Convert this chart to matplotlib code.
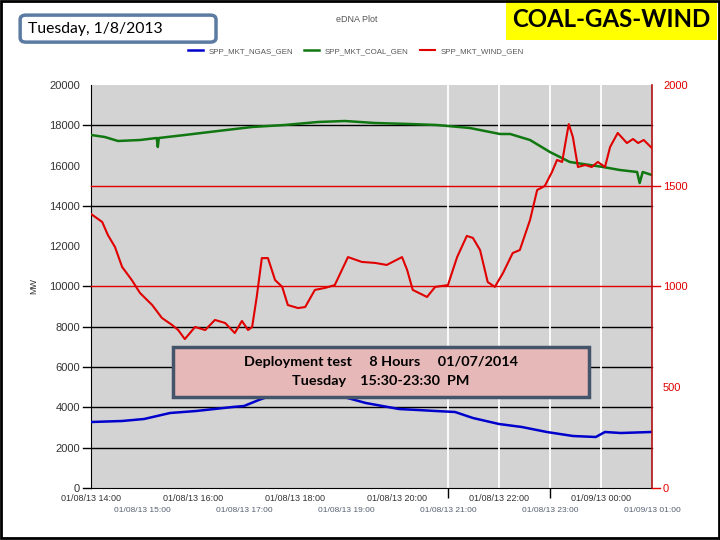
import matplotlib
matplotlib.use('Agg')
import matplotlib.pyplot as plt
from matplotlib.patches import FancyBboxPatch, Rectangle
import matplotlib.transforms as mtransforms

plt.rcParams['font.family'] = ['Liberation Sans Narrow', 'Liberation Sans', 'DejaVu Sans']

# hours of day (14 = 14:00 on 01/08/13, 24 = 00:00 on 01/09/13)
coal_t = [14.00, 14.27, 14.53, 14.96, 15.29, 15.31, 15.33, 15.84, 16.49, 17.16, 17.80, 18.45,
          18.98, 19.57, 20.25, 20.78, 21.43, 22.02, 22.22, 22.61, 23.00, 23.39, 24.04, 24.37,
          24.71, 24.76, 24.82, 25.00]
coal_mw = [17519, 17419, 17221, 17270, 17370, 16923, 17370, 17519, 17717, 17916, 18015, 18164,
           18213, 18114, 18064, 18015, 17866, 17568, 17568, 17270, 16675, 16179, 15931, 15782,
           15682, 15136, 15682, 15533]

gas_t = [14.00, 14.61, 15.04, 15.55, 16.06, 16.78, 17.00, 17.29, 17.51, 17.90, 18.49, 18.96,
         19.39, 20.04, 20.41, 20.76, 21.14, 21.49, 22.00, 22.45, 22.94, 23.45, 23.90, 24.08,
         24.39, 24.98]
gas_mw = [3275, 3325, 3424, 3722, 3821, 4020, 4069, 4367, 4566, 4750, 4800, 4516,
          4218, 3920, 3871, 3821, 3772, 3474, 3176, 3027, 2779, 2581, 2531, 2779,
          2729, 2779]

wind_t = [14.00, 14.22, 14.33, 14.47, 14.61, 14.80, 14.96, 15.20, 15.39, 15.59, 15.71, 15.84,
          16.04, 16.24, 16.43, 16.63, 16.82, 16.96, 17.08, 17.16, 17.25, 17.35, 17.47, 17.61,
          17.75, 17.86, 18.06, 18.20, 18.39, 18.59, 18.78, 19.04, 19.31, 19.57, 19.80, 20.10,
          20.20, 20.31, 20.59, 20.75, 21.00, 21.18, 21.37, 21.49, 21.63, 21.78, 21.92, 22.08,
          22.27, 22.41, 22.61, 22.75, 22.90, 23.04, 23.14, 23.24, 23.29, 23.37, 23.45, 23.55,
          23.69, 23.82, 23.94, 24.08, 24.18, 24.33, 24.51, 24.63, 24.73, 24.84, 25.00]
wind_mw = [1360, 1320, 1256, 1196, 1097, 1032, 968, 908, 844, 809, 784, 739,
           799, 784, 834, 819, 769, 829, 784, 799, 948, 1141, 1141, 1032,
           998, 908, 893, 898, 983, 993, 1007, 1146, 1122, 1117, 1107, 1146,
           1082, 983, 948, 998, 1007, 1146, 1251, 1241, 1181, 1022, 998, 1067,
           1166, 1181, 1330, 1479, 1499, 1568, 1628, 1618, 1692, 1806, 1742, 1593,
           1603, 1593, 1618, 1593, 1692, 1762, 1712, 1732, 1712, 1727, 1687]

even_ticks = [14, 16, 18, 20, 22, 24]
even_labels = ['01/08/13 14:00', '01/08/13 16:00', '01/08/13 18:00',
               '01/08/13 20:00', '01/08/13 22:00', '01/09/13 00:00']
odd_ticks = [15, 17, 19, 21, 23, 25]
odd_labels = ['01/08/13 15:00', '01/08/13 17:00', '01/08/13 19:00',
              '01/08/13 21:00', '01/08/13 23:00', '01/09/13 01:00']
white_lines = [21, 22, 23, 24]
black_grid = [2000, 4000, 6000, 8000, 14000, 18000]
red_grid = [1000, 1500]

red = '#e00000'
darkred = '#b01010'

fig = plt.figure(figsize=(7.2, 5.4), dpi=100)
ax = fig.add_axes([0.1264, 0.0963, 0.779, 0.7463])
ax.set_facecolor('#d3d3d3')
ax.set_xlim(14, 25)
ax.set_ylim(0, 20000)

ax2 = ax.twinx()
ax2.set_ylim(0, 2000)

# grid lines, extended a bit outside the axes like tick dashes
ytr = mtransforms.blended_transform_factory(ax.transAxes, ax.transData)
for v in black_grid:
    ax.plot([-0.015, 1], [v, v], color='black', lw=1, transform=ytr, clip_on=False, zorder=1)
for v in [0, 10000]:
    ax.plot([-0.015, 0], [v, v], color='black', lw=1, transform=ytr, clip_on=False, zorder=1)
ytr2 = mtransforms.blended_transform_factory(ax2.transAxes, ax2.transData)
for v in red_grid:
    ax2.plot([0, 1.015], [v, v], color=red, lw=1, transform=ytr2, clip_on=False, zorder=1)
ax2.plot([1, 1.015], [0, 0], color=red, lw=1, transform=ytr2, clip_on=False, zorder=1)
for h in white_lines:
    ax.axvline(h, color='white', lw=1.3, zorder=1)

l1, = ax.plot(gas_t, gas_mw, color='#0000cc', lw=1.8, zorder=3)
l2, = ax.plot(coal_t, coal_mw, color='#117711', lw=1.8, zorder=3)
l3, = ax2.plot(wind_t, wind_mw, color=red, lw=1.5, zorder=3)

ax.set_yticks(range(0, 20001, 2000))
ax.tick_params(axis='y', length=0, pad=8, labelsize=8, labelcolor='#333333')
ax2.set_yticks([0, 500, 1000, 1500, 2000])
ax2.tick_params(axis='y', length=0, pad=8, labelsize=8, labelcolor=red)

ax.set_xticks(even_ticks)
ax.set_xticklabels(even_labels)
ax.set_xticks(white_lines, minor=True)
ax.tick_params(axis='x', which='major', length=0, pad=4.5, labelsize=6.5, labelcolor='#333333')
ax.tick_params(axis='x', which='minor', length=7, color='black', width=1)

sec = ax.secondary_xaxis('bottom')
sec.set_xticks(odd_ticks)
sec.set_xticklabels(odd_labels)
sec.tick_params(axis='x', length=0, pad=14, labelsize=6, labelcolor='#556070')
sec.spines['bottom'].set_visible(False)

for a in (ax, ax2):
    a.spines['top'].set_visible(False)
ax.spines['right'].set_visible(False)
ax.spines['left'].set_color('black')
ax.spines['bottom'].set_color('black')
ax2.spines['left'].set_visible(False)
ax2.spines['bottom'].set_visible(False)
ax2.spines['right'].set_color(darkred)
ax2.spines['right'].set_linewidth(1.2)

ax.set_ylabel('MW', fontsize=6.5, color='#333333', labelpad=8)

fig.legend([l1, l2, l3], ['SPP_MKT_NGAS_GEN', 'SPP_MKT_COAL_GEN', 'SPP_MKT_WIND_GEN'],
           loc='center', bbox_to_anchor=(0.494, 0.905), ncol=3, frameon=False,
           fontsize=5.7, handlelength=1.9, handletextpad=0.7, columnspacing=1.4,
           labelcolor='#555555')
fig.text(0.496, 0.963, 'eDNA Plot', ha='center', va='center', fontsize=6.5, color='#555555')

# title box on the left
fig.patches.append(FancyBboxPatch((0.028, 0.922), 0.272, 0.05, boxstyle='round,pad=0,rounding_size=0.008',
                                  transform=fig.transFigure, facecolor='white', edgecolor='#5b7ba2',
                                  lw=2.5, zorder=5))
fig.text(0.039, 0.947, 'Tuesday, 1/8/2013', ha='left', va='center', fontsize=11.3,
         family='Lato', color='black', zorder=6)

# yellow label at top right
fig.patches.append(Rectangle((0.703, 0.926), 0.293, 0.074, transform=fig.transFigure,
                             facecolor='#ffff00', edgecolor='none', zorder=5))
fig.text(0.849, 0.963, 'COAL-GAS-WIND', ha='center', va='center', fontsize=17.3,
         family='Lato', weight='bold', color='black', zorder=6)

# annotation box
fig.patches.append(Rectangle((0.240, 0.265), 0.578, 0.092, transform=fig.transFigure,
                             facecolor='#e6b8b7', edgecolor='#44546a', lw=2.5, zorder=5))
fig.text(0.529, 0.329, 'Deployment test     8 Hours     01/07/2014', ha='center', va='center',
         fontsize=10.4, family='Lato', weight='bold', color='black', zorder=6)
fig.text(0.529, 0.294, 'Tuesday    15:30-23:30  PM', ha='center', va='center',
         fontsize=10.4, family='Lato', weight='bold', color='black', zorder=6)

# slide frame
fig.patches.append(Rectangle((0.002, 0.003), 0.996, 0.995, transform=fig.transFigure,
                             facecolor='none', edgecolor='black', lw=2, zorder=10))

fig.savefig('out.png', dpi=100)
